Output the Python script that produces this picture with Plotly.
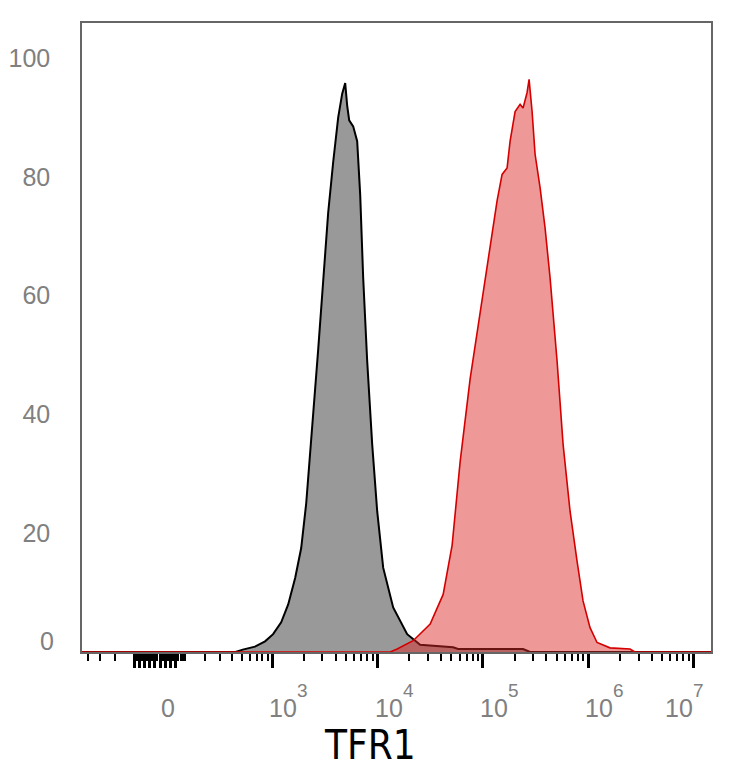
import numpy as np
import plotly.graph_objects as go

# TFR1 histogram, % of max
# unstained / isotype control (grey)
ctrl_int = [433, 512, 676, 848, 1014, 1212, 1415, 1651, 1883, 2101, 2397, 2734,
            3050, 3401, 3794, 4233, 4620, 4933, 5152, 5384, 5875, 6411, 6846, 7309,
            7978, 8897, 9926, 11315, 14074, 19106, 25378, 39289, 52180, 58180,
            240530, 280300]
ctrl_pct = [0, 0.4, 0.9, 1.8, 3.0, 5.0, 8.0, 12.5, 17.5, 25, 37.5, 51,
            62.5, 74, 82.5, 90, 94, 95.8, 92, 89.5, 88.5, 86, 77, 63,
            49, 35, 23.7, 14.2, 7.5, 3.0, 1.2, 0.9, 0.8, 0.5,
            0.5, 0]

# TFR1 stained (red)
tfr1_int = [13184, 15360, 21780, 31575, 41960, 51050, 60780, 75620, 94070, 117020,
            136370, 152100, 169660, 181150, 202050, 225380, 240530, 262560, 274280,
            292860, 312670, 348760, 388950, 433870, 505500, 576290, 671400, 782250,
            891550, 1038800, 1210200, 1607300, 2487100, 2773800]
tfr1_pct = [0, 0.5, 1.9, 4.7, 9.7, 18, 32, 46, 57.4, 68.7,
            76, 80.4, 81.5, 86, 91, 92.2, 91.6, 94.2, 96.4,
            91, 83.8, 78.2, 71.4, 63, 49, 35, 23.7, 15.3,
            8.6, 4.1, 1.6, 0.7, 0.5, 0]

x_lo, x_hi = -461, 1.46e7
major_vals = [1e3, 1e4, 1e5, 1e6, 1e7]
major_exp = ["3", "4", "5", "6", "7"]
y_ticks = [20, 40, 60, 80, 100]

W = 173.0  # width of the linear region of the biex scale


def biex(v):
    return np.arcsinh(np.asarray(v, dtype=float) / W)


# dense block of ticks around zero, then log minor ticks
near_zero = list(range(-100, 61, 20))
minor_vals = [-400, -300, -200] + list(range(-90, 60, 20)) + [70, 80, 90, 100]
for dec in [100, 1000, 10000, 100000, 1000000]:
    minor_vals += [k * dec for k in range(2, 10)]

fig = go.Figure()

for xs, ys, line_c, line_w, fill_c in [
    (ctrl_int, ctrl_pct, "black", 2, "#999999"),
    (tfr1_int, tfr1_pct, "#d40000", 1.6, "rgba(222,40,40,0.48)"),
]:
    xx = [x_lo] + xs + [x_hi]
    yy = [0] + ys + [0]
    fig.add_trace(go.Scatter(x=biex(xx), y=yy, mode="lines", fill="tozeroy",
                             fillcolor=fill_c, line=dict(color=line_c, width=line_w),
                             hoverinfo="skip", showlegend=False))

tick_font = dict(family="Liberation Sans, Arial, sans-serif", size=25, color="#808080")

fig.update_xaxes(range=[float(biex(x_lo)), float(biex(x_hi))],
                 showgrid=False, zeroline=False, automargin=False,
                 showline=True, mirror=True, linecolor="#666666", linewidth=1.5,
                 tickmode="array", tickvals=biex(near_zero + major_vals),
                 showticklabels=False,
                 ticks="outside", ticklen=14, tickwidth=3, tickcolor="black",
                 minor=dict(tickmode="array", tickvals=biex(minor_vals),
                            ticks="outside", ticklen=7, tickwidth=1.5,
                            tickcolor="black", showgrid=False))

fig.update_yaxes(range=[0, 105.9], showgrid=False, zeroline=False, automargin=False,
                 showline=True, mirror=True, linecolor="#666666", linewidth=1.5,
                 tickmode="array", tickvals=y_ticks, ticks="",
                 ticklabelstandoff=25, tickfont=tick_font)

ann = []
# y "0" label sits a bit above the baseline
ann.append(dict(x=0, xref="paper", y=0, yref="y", text="0", showarrow=False,
                xanchor="right", yanchor="middle", xshift=-26, yshift=11,
                font=tick_font))
# x labels
ann.append(dict(x=float(biex(0)), xref="x", y=0, yref="paper", text="0",
                showarrow=False, xanchor="center", yanchor="middle",
                xshift=8, yshift=-56, font=tick_font))
for v, e in zip(major_vals, major_exp):
    dx = -5 if v < 1e7 else -31  # last label pulled in to stay on the page
    ann.append(dict(x=float(biex(v)), xref="x", y=0, yref="paper", text="10",
                    showarrow=False, xanchor="left", yanchor="middle",
                    xshift=dx, yshift=-56, font=tick_font))
    ann.append(dict(x=float(biex(v)), xref="x", y=0, yref="paper", text=e,
                    showarrow=False, xanchor="left", yanchor="middle",
                    xshift=dx + 28, yshift=-38, font=dict(tick_font, size=19)))
ann.append(dict(x=(370 - 82) / 629, xref="paper", y=0, yref="paper", text="TFR1",
                showarrow=False, xanchor="center", yanchor="middle", yshift=-93,
                font=dict(family="Liberation Sans Narrow, DejaVu Sans Condensed, sans-serif",
                          size=40, color="black")))

# page body adds a small offset, so the figure is a little smaller than the window
fig.update_layout(width=726, height=760,
                  margin=dict(l=74, r=23, t=15, b=116),
                  plot_bgcolor="white", paper_bgcolor="white",
                  annotations=ann)

fig.write_html("out.html")
